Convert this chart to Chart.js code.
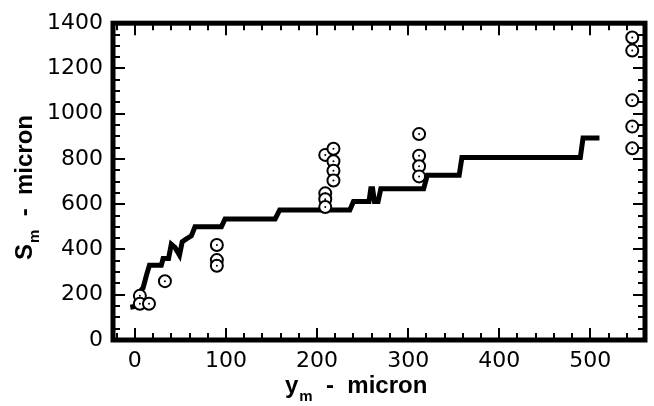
<!DOCTYPE html>
<html>
<head>
<meta charset="utf-8">
<script src="https://cdn.jsdelivr.net/npm/chart.js@4.4.1/dist/chart.umd.min.js"></script>
<style>
  html, body { margin: 0; padding: 0; background: #fff; }
  #wrap { width: 654px; height: 406px; position: relative; }
</style>
</head>
<body>
<div id="wrap"><canvas id="c" width="654" height="406"></canvas></div>
<script>
// ---- data ----
const lineX = [-5, 2, 3, 9, 13, 16, 29, 31, 37, 40, 44, 49, 52, 57, 62, 66, 95, 99, 154, 159, 236, 240, 257, 259, 261, 263, 267, 270, 317, 321, 356, 359, 489, 492, 510];
const lineY = [145, 150, 202, 230, 290, 330, 330, 360, 360, 423, 409, 375, 434, 448, 460, 500, 500, 535, 535, 575, 575, 612, 612, 668, 668, 612, 612, 668, 668, 728, 728, 806, 806, 893, 893];

const pointX = [5.5, 5.5, 15.5, 33, 90, 90, 90, 209, 218, 218, 218, 218, 209, 209, 209, 312, 312, 312, 312, 546, 546, 546, 546, 546];
const pointY = [195, 160, 160, 260, 420, 353, 328, 818, 845, 790, 748, 705, 648, 622, 588, 910, 814, 768, 723, 1337, 1279, 1059, 943, 847];

const xTickLabels = [0, 100, 200, 300, 400, 500];
const yTickLabels = [0, 200, 400, 600, 800, 1000, 1200, 1400];
const xMinorStep = 20;
const yMinorStep = 50;

const X_MIN = -24, X_MAX = 560, Y_MIN = 0, Y_MAX = 1400;

const lineData = lineX.map((x, i) => ({ x: x, y: lineY[i] }));
const pointData = pointX.map((x, i) => ({ x: x, y: pointY[i] }));

const TICK_FONT = { family: '"DejaVu Sans", sans-serif', size: 22, weight: 'normal' };

const framePlugin = {
  id: 'frame',
  afterDatasetsDraw(chart) {
    const ctx = chart.ctx;
    const a = chart.chartArea;
    const xs = chart.scales.x, ys = chart.scales.y;
    ctx.save();
    ctx.strokeStyle = '#000';
    ctx.lineCap = 'butt';
    ctx.lineWidth = 2;
    const drawX = (v, len) => {
      const px = Math.round(xs.getPixelForValue(v));
      ctx.beginPath();
      ctx.moveTo(px, a.bottom); ctx.lineTo(px, a.bottom - len);
      ctx.moveTo(px, a.top); ctx.lineTo(px, a.top + len);
      ctx.stroke();
    };
    const drawY = (v, len) => {
      const py = Math.round(ys.getPixelForValue(v));
      ctx.beginPath();
      ctx.moveTo(a.left, py); ctx.lineTo(a.left + len, py);
      ctx.moveTo(a.right, py); ctx.lineTo(a.right - len, py);
      ctx.stroke();
    };
    for (let v = Math.ceil(X_MIN / xMinorStep) * xMinorStep; v <= X_MAX; v += xMinorStep) {
      drawX(v, xTickLabels.includes(v) ? 12 : 7);
    }
    for (let v = Y_MIN; v <= Y_MAX; v += yMinorStep) {
      drawY(v, yTickLabels.includes(v) ? 12 : 7);
    }
    ctx.lineWidth = 5;
    ctx.strokeRect(a.left, a.top, a.right - a.left, a.bottom - a.top);
    ctx.restore();
  },
  afterDraw(chart) {
    const ctx = chart.ctx;
    ctx.save();
    ctx.fillStyle = '#000';
    ctx.textBaseline = 'alphabetic';
    ctx.textAlign = 'left';
    const big = 'bold 24px "Liberation Sans", Arial, sans-serif';
    const small = 'bold 15px "Liberation Sans", Arial, sans-serif';
    // y axis title (rotated)
    ctx.save();
    ctx.translate(32, 260);
    ctx.rotate(-Math.PI / 2);
    ctx.font = big;
    ctx.fillText('S', 0, 0);
    let w = ctx.measureText('S').width;
    ctx.font = small;
    ctx.fillText('m', w + 1, 7);
    w += 1 + ctx.measureText('m').width;
    ctx.font = big;
    ctx.fillText('  -  micron', w, 0);
    ctx.restore();
    // x axis title
    let x0 = 285, y0 = 393;
    ctx.font = big;
    ctx.fillText('y', x0, y0);
    let wx = ctx.measureText('y').width;
    ctx.font = small;
    ctx.fillText('m', x0 + wx + 1, y0 + 8);
    wx += 1 + ctx.measureText('m').width;
    ctx.font = big;
    ctx.fillText('  -  micron', x0 + wx, y0);
    ctx.restore();
  }
};

new Chart(document.getElementById('c'), {
  type: 'scatter',
  data: {
    datasets: [
      {
        label: 'line',
        data: lineData,
        showLine: true,
        borderColor: '#000',
        borderWidth: 5,
        pointRadius: 0,
        tension: 0,
        fill: false,
        borderJoinStyle: 'miter',
        order: 3
      },
      {
        label: 'circles',
        data: pointData,
        showLine: false,
        pointStyle: 'circle',
        pointRadius: 6,
        pointBorderWidth: 2,
        pointBorderColor: '#000',
        pointBackgroundColor: '#fff',
        order: 2
      },
      {
        label: 'dots',
        data: pointData,
        showLine: false,
        pointStyle: 'circle',
        pointRadius: 1,
        pointBorderWidth: 0,
        pointBackgroundColor: '#000',
        order: 1
      }
    ]
  },
  options: {
    responsive: false,
    animation: false,
    events: [],
    layout: { padding: { left: 0, right: 9, top: 15, bottom: 0 } },
    plugins: { legend: { display: false }, tooltip: { enabled: false }, title: { display: false } },
    scales: {
      x: {
        type: 'linear',
        min: X_MIN, max: X_MAX,
        afterBuildTicks: (s) => { s.ticks = xTickLabels.map(v => ({ value: v })); },
        afterFit: (s) => { s.height = 66; },
        grid: { display: false, drawTicks: false },
        border: { display: false },
        ticks: { color: '#000', font: TICK_FONT, padding: 8, maxRotation: 0, autoSkip: false, callback: (v) => String(v) }
      },
      y: {
        type: 'linear',
        min: Y_MIN, max: Y_MAX,
        afterBuildTicks: (s) => { s.ticks = yTickLabels.map(v => ({ value: v })); },
        afterFit: (s) => { s.width = 113; },
        grid: { display: false, drawTicks: false },
        border: { display: false },
        ticks: { color: '#000', font: TICK_FONT, padding: 10, autoSkip: false, callback: (v) => String(v) }
      }
    }
  },
  plugins: [framePlugin]
});
</script>
</body>
</html>
